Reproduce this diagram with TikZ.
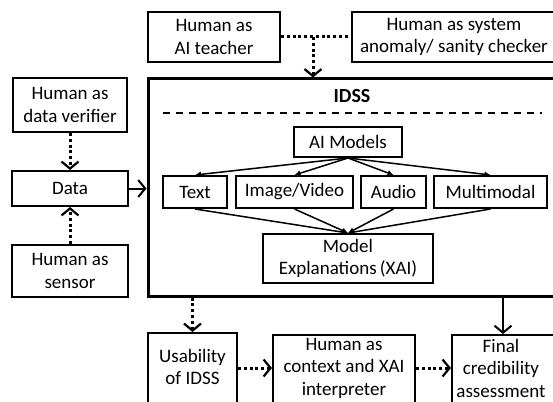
\documentclass[tikz,border=0pt]{standalone}
\usepackage{fontspec}
\setmainfont{Carlito}
\usetikzlibrary{arrows.meta}
\newcommand{\boxfont}{\fontsize{19}{22.5}\selectfont}
\tikzset{
  blk/.style={draw, line width=2pt, inner sep=0pt, align=center, font=\boxfont},
  lbl/.style={inner sep=0pt, align=center, font=\boxfont},
  solidarrow/.style={line width=2pt, -{Straight Barb[length=7pt,width=17pt]}},
  dotline/.style={line width=3pt, dash pattern=on 3pt off 2.8pt},
  dotarrow/.style={dotline, -{Straight Barb[length=7pt,width=17pt,line width=2.2pt]}},
  treearrow/.style={line width=1.5pt, -{Latex[length=6pt,width=6pt]}},
}
\begin{document}
\begin{tikzpicture}[x=1pt,y=-1pt]
\useasboundingbox (0,0) rectangle (553,401);
\clip (0,0) rectangle (553,401);

% top row: humans acting on the system
\node[blk, minimum width=132pt, minimum height=50pt] (teacher) at (214,37) {Human as\\AI teacher};
\node[blk, minimum width=204pt, minimum height=50pt] (anomaly) at (454,37) {Human as system\\anomaly/ sanity checker};

% main IDSS frame
\node[draw, line width=3pt, minimum width=408pt, minimum height=217pt, inner sep=0pt] (idss) at (352,187.5) {};
\node[font=\fontsize{20}{22}\selectfont\bfseries, inner sep=0pt] (title) at (352,96) {IDSS};
\coordinate (dashL) at (163,113);
\coordinate (dashR) at (542,113);
\draw[line width=2pt, dash pattern=on 7pt off 6pt] (dashL) -- (dashR);

% left column: data and its human roles
\node[blk, minimum width=114pt, minimum height=54pt] (verifier) at (70,105) {Human as\\data verifier};
\node[blk, minimum width=116pt, minimum height=35pt] (data) at (70,188.5) {Data};
\node[blk, minimum width=116pt, minimum height=52pt] (sensor) at (70,271) {Human as\\sensor};

% models inside the IDSS
\node[blk, minimum width=108pt, minimum height=30pt] (aim) at (348,142) {AI Models};
\node[blk, minimum width=64pt, minimum height=32pt] (text) at (195,192) {Text};
\node[blk, minimum width=117pt, minimum height=32pt] (img) at (294.5,192) {Image/Video};
\node[blk, minimum width=65pt, minimum height=32pt] (audio) at (393.5,192) {Audio};
\node[blk, minimum width=113pt, minimum height=32pt] (multi) at (490.5,192) {Multimodal};
\node[blk, minimum width=170pt, minimum height=49pt] (xai) at (348,258.5) {Model\\Explanations\,(XAI)};

% bottom row: outputs (boxes run past the lower edge)
\node[blk, minimum width=89pt, minimum height=72pt] (usab) at (192.5,369) {};
\node[lbl] (usabtxt) at (192.5,367) {Usability\\of IDSS};
\node[blk, minimum width=142pt, minimum height=72pt] (interp) at (344,371) {};
\node[lbl] (interptxt) at (344,368) {Human as\\context and XAI\\interpreter};
\node[blk, minimum width=108pt, minimum height=72pt] (final) at (506,371) {};
\node[lbl] (finaltxt) at (501,368) {Final\\credibility\\assessment};

% connectors
\coordinate (junc) at (313,37);
\draw[dotline] (teacher.east) -- (anomaly.west);
\draw[dotarrow] (junc) -- (junc |- idss.north);

\draw[dotarrow] (verifier.south) -- (data.north);
\draw[dotarrow] (sensor.north) -- (data.south);
\draw[solidarrow] (data.east) -- (data.east -| idss.west);

\foreach \n in {text,img,audio,multi}{
  \draw[treearrow] (aim.south) -- (\n.north);
  \draw[treearrow] (\n.south) -- (xai.north);
}

\draw[dotarrow] (usab.north |- idss.south) -- (usab.north);
\draw[solidarrow] ([xshift=-3pt]final.north |- idss.south) -- ([xshift=-3pt]final.north);
\draw[dotarrow] (usab.east |- interptxt) -- (interp.west |- interptxt);
\draw[dotarrow] (interp.east |- interptxt) -- (final.west |- interptxt);
\end{tikzpicture}
\end{document}
